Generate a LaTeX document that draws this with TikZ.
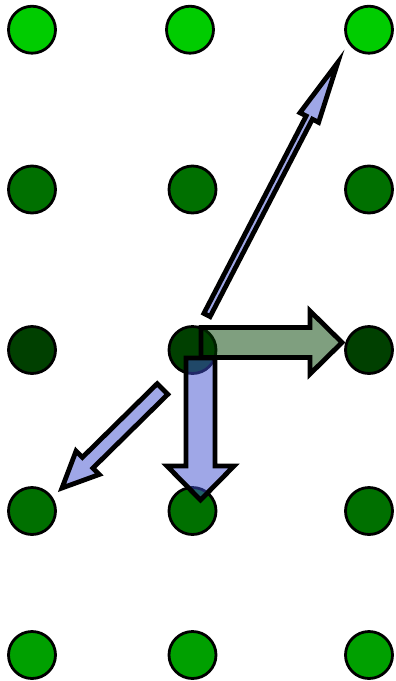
\documentclass[tikz,border=0pt]{standalone}
\usetikzlibrary{calc}
\definecolor{gA}{RGB}{0,204,0}
\definecolor{gB}{RGB}{0,112,0}
\definecolor{gC}{RGB}{0,64,0}
\definecolor{gD}{RGB}{0,160,0}
\definecolor{arrblue}{RGB}{64,80,208}
\newcommand\blockarr[6]{%
 \coordinate (#2#3h) at ($(#3)!#6!(#2)$);
 \draw[#1] ($(#2)!#4!90:(#3)$) -- ($(#2#3h)!#4!-90:(#2)$) -- ($(#2#3h)!#5!-90:(#2)$) -- (#3) -- ($(#2#3h)!#5!90:(#2)$) -- ($(#2#3h)!#4!90:(#2)$) -- ($(#2)!#4!-90:(#3)$) -- cycle;}
\begin{document}
\begin{tikzpicture}[x=1pt,y=-1pt,
 dot/.style={circle,draw=black,line width=2.8pt,minimum size=47pt,inner sep=0pt},
 barr/.style={draw=black,line width=4.8pt,fill=arrblue,fill opacity=.5},
 garr/.style={draw=black,line width=4.8pt,fill=gC,fill opacity=.5}]
\useasboundingbox (0,0) rectangle (396,681);
\node[dot,fill=gA] (c11) at (32,29.7) {};
\node[dot,fill=gA] (c12) at (190,29.7) {};
\node[dot,fill=gA] (c13) at (369,29.7) {};
\node[dot,fill=gB] (c21) at (32,189.5) {};
\node[dot,fill=gB] (c22) at (192.5,189.5) {};
\node[dot,fill=gB] (c23) at (369,189.5) {};
\node[dot,fill=gC] (c31) at (32,350) {};
\node[dot,fill=gC] (c32) at (192.5,350) {};
\node[dot,fill=gC] (c33) at (369,350) {};
\node[dot,fill=gB] (c41) at (32,511) {};
\node[dot,fill=gB] (c42) at (192.5,511) {};
\node[dot,fill=gB] (c43) at (369,511) {};
\node[dot,fill=gD] (c51) at (32,655) {};
\node[dot,fill=gD] (c52) at (192.5,655) {};
\node[dot,fill=gD] (c53) at (369,655) {};
\coordinate (p1) at (207,315); \coordinate (q1) at (337.8,62.5);
\blockarr{barr}{p1}{q1}{3.5pt}{10.5pt}{62pt}
\coordinate (p2) at (162.5,389); \coordinate (q2) at (62,488);
\blockarr{barr}{p2}{q2}{7.5pt}{16.5pt}{36pt}
\coordinate (p3) at (201,342.5); \coordinate (q3) at (342,342.5);
\blockarr{garr}{p3}{q3}{15pt}{31.5pt}{32pt}
\coordinate (p4) at (200.5,358); \coordinate (q4) at (200.5,500);
\blockarr{barr}{p4}{q4}{14.5pt}{33.5pt}{34pt}
\end{tikzpicture}
\end{document}
